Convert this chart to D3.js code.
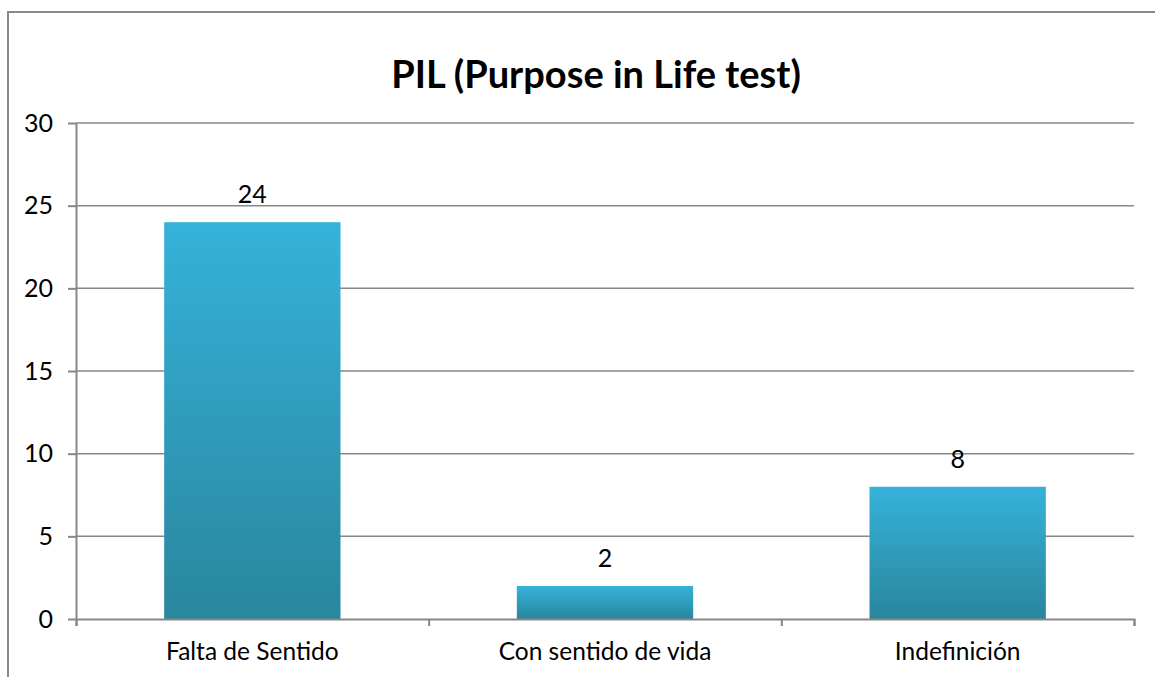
<!DOCTYPE html>
<html>
<head>
<meta charset="utf-8">
<script src="https://cdn.jsdelivr.net/npm/d3@7"></script>
<style>
  body { margin: 0; background: #fff; }
  .chart text { font-family: Lato, "Open Sans", sans-serif; fill: #000; }
  .axis path, .axis line { stroke: #878787; }
</style>
</head>
<body>
<svg class="chart"></svg>
<script>
var categories = ['Falta de Sentido', 'Con sentido de vida', 'Indefinición'];
var values = [24, 2, 8];
var yTicks = [0, 5, 10, 15, 20, 25, 30];
var title = 'PIL (Purpose in Life test)';

function show() {
    'use strict';

    var W = 1155, H = 677;
    var margin = { top: 123, bottom: 58, right: 21, left: 76 },
        width = W - margin.left - margin.right,
        height = H - margin.top - margin.bottom;

    var svg = d3.select('.chart')
        .attr('width', W)
        .attr('height', H);

    // gradient for bars
    var grad = svg.append('defs').append('linearGradient')
        .attr('id', 'barGrad')
        .attr('x1', 0).attr('y1', 0).attr('x2', 0).attr('y2', 1);
    grad.append('stop').attr('offset', '0%').attr('stop-color', '#36b2da');
    grad.append('stop').attr('offset', '100%').attr('stop-color', '#29869d');

    // outer border
    svg.append('path')
        .attr('d', 'M8,' + H + ' V12 H' + W)
        .attr('fill', 'none')
        .attr('stroke', '#8a8a8a')
        .attr('stroke-width', 2);

    svg.append('text')
        .attr('x', 596)
        .attr('y', 88)
        .attr('text-anchor', 'middle')
        .style('font-size', '38px')
        .style('font-weight', 'bold')
        .text(title);

    var chart = svg.append('g')
        .attr('transform', 'translate(' + margin.left + ',' + margin.top + ')');

    var x = d3.scaleBand().domain(categories).range([0, width]).paddingInner(0).paddingOuter(0);
    var y = d3.scaleLinear().domain([0, 30]).range([height, 0]);

    // gridlines
    chart.append('g').selectAll('line')
        .data(yTicks.slice(1))
        .enter().append('line')
        .attr('x1', 0).attr('x2', width)
        .attr('y1', function (d) { return y(d); })
        .attr('y2', function (d) { return y(d); })
        .attr('stroke', '#878787')
        .attr('stroke-width', 1.5);

    var bw = x.bandwidth() * 0.5;
    chart.selectAll('rect.bar')
        .data(values)
        .enter().append('rect')
        .attr('class', 'bar')
        .attr('x', function (d, i) { return x(categories[i]) + (x.bandwidth() - bw) / 2; })
        .attr('y', function (d) { return y(d); })
        .attr('width', bw)
        .attr('height', function (d) { return height - y(d); })
        .attr('fill', 'url(#barGrad)');

    chart.selectAll('text.val')
        .data(values)
        .enter().append('text')
        .attr('class', 'val')
        .attr('x', function (d, i) { return x(categories[i]) + x.bandwidth() / 2; })
        .attr('y', function (d) { return y(d) - 19; })
        .attr('text-anchor', 'middle')
        .style('font-size', '25px')
        .text(function (d) { return d; });

    var leftAxis = d3.axisLeft(y).tickValues(yTicks).tickSizeInner(8).tickSizeOuter(0).tickPadding(15);
    var gy = chart.append('g').attr('class', 'axis').call(leftAxis);
    gy.select('.domain').attr('stroke-width', 2);
    gy.selectAll('line').attr('stroke-width', 2);
    gy.selectAll('text').style('font-size', '25px');

    // bottom axis with ticks at band boundaries
    chart.append('g').attr('class', 'axis')
        .attr('transform', 'translate(0,' + height + ')')
        .call(d3.axisBottom(y.copy().domain([0, 3]).range([0, width])).tickValues([0, 1, 2, 3]).tickSize(7).tickFormat(''))
        .selectAll('path, line').attr('stroke-width', 2);

    var gx = chart.append('g').attr('class', 'axis')
        .attr('transform', 'translate(0,' + height + ')')
        .call(d3.axisBottom(x).tickSize(0).tickPadding(24));
    gx.select('.domain').remove();
    gx.selectAll('text').style('font-size', '24.5px');
}
show();
</script>
</body>
</html>
